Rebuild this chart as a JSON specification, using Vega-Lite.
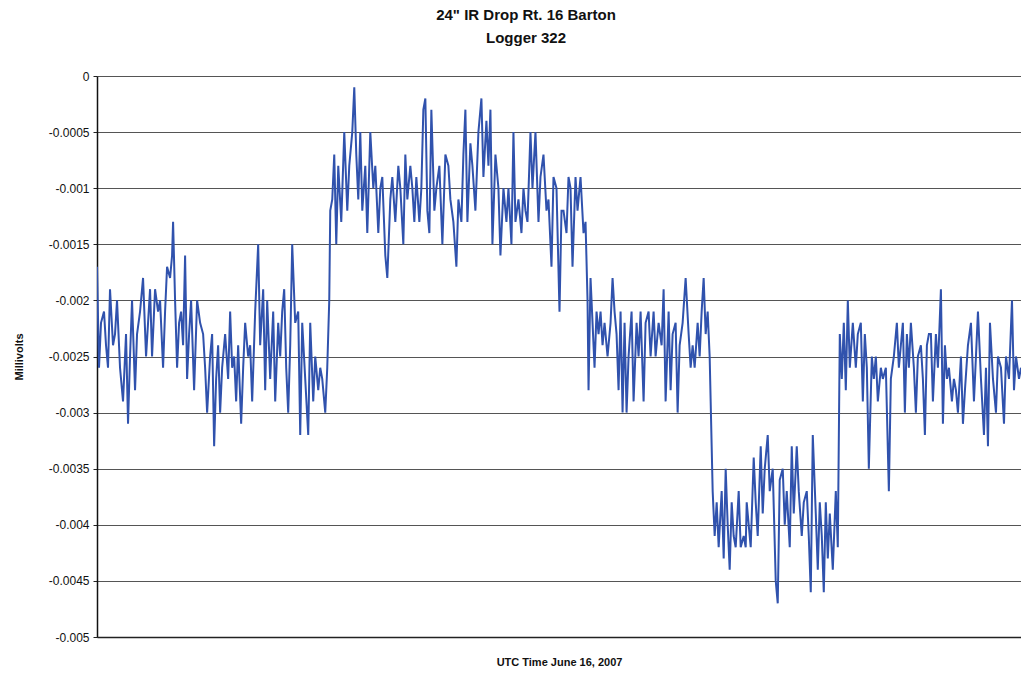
{
  "$schema": "https://vega.github.io/schema/vega-lite/v6.json",
  "autosize": {"type": "none"},
  "padding": {"left": 97, "top": 76, "right": 0, "bottom": 38},
  "width": 924,
  "height": 561,
  "background": "white",
  "title": {
    "text": ["24\" IR Drop Rt. 16 Barton", "Logger 322"],
    "font": "Liberation Sans",
    "fontSize": 15,
    "fontWeight": "bold",
    "color": "#111111",
    "anchor": "middle",
    "frame": "group",
    "dx": -33,
    "offset": 24,
    "lineHeight": 23
  },
  "config": {
    "view": {"stroke": null},
    "axis": {"labelFont": "Liberation Sans", "titleFont": "Liberation Sans"}
  },
  "data": {"values": [
    {"t":0,"v":-0.0017},{"t":2,"v":-0.0026},{"t":4,"v":-0.0022},{"t":7,"v":-0.0021},{"t":9,"v":-0.0024},{"t":11,"v":-0.0026},{"t":13,"v":-0.0019},{"t":16,"v":-0.0024},{"t":18,"v":-0.0023},{"t":20,"v":-0.0020},
    {"t":23,"v":-0.0026},{"t":26,"v":-0.0029},{"t":29,"v":-0.0023},{"t":31,"v":-0.0031},{"t":33,"v":-0.0025},{"t":35,"v":-0.0020},{"t":38,"v":-0.0028},{"t":40,"v":-0.0023},{"t":43,"v":-0.0021},{"t":46,"v":-0.0018},
    {"t":49,"v":-0.0025},{"t":51,"v":-0.0022},{"t":53,"v":-0.0019},{"t":55,"v":-0.0025},{"t":58,"v":-0.0019},{"t":61,"v":-0.0021},{"t":63,"v":-0.0020},{"t":66,"v":-0.0026},{"t":68,"v":-0.0021},{"t":70,"v":-0.0017},
    {"t":73,"v":-0.0018},{"t":75,"v":-0.0016},{"t":76,"v":-0.0013},{"t":78,"v":-0.0020},{"t":80,"v":-0.0026},{"t":82,"v":-0.0022},{"t":84,"v":-0.0021},{"t":86,"v":-0.0024},{"t":88,"v":-0.0016},{"t":90,"v":-0.0027},
    {"t":92,"v":-0.0023},{"t":94,"v":-0.0020},{"t":97,"v":-0.0028},{"t":100,"v":-0.0020},{"t":103,"v":-0.0022},{"t":106,"v":-0.0023},{"t":108,"v":-0.0026},{"t":110,"v":-0.0030},{"t":113,"v":-0.0025},{"t":115,"v":-0.0023},
    {"t":117,"v":-0.0033},{"t":119,"v":-0.0027},{"t":121,"v":-0.0024},{"t":123,"v":-0.0030},{"t":125,"v":-0.0026},{"t":128,"v":-0.0023},{"t":131,"v":-0.0027},{"t":133,"v":-0.0021},{"t":135,"v":-0.0026},{"t":137,"v":-0.0025},
    {"t":139,"v":-0.0029},{"t":141,"v":-0.0024},{"t":144,"v":-0.0031},{"t":146,"v":-0.0026},{"t":148,"v":-0.0022},{"t":151,"v":-0.0025},{"t":153,"v":-0.0024},{"t":155,"v":-0.0029},{"t":158,"v":-0.0021},{"t":161,"v":-0.0015},
    {"t":163,"v":-0.0024},{"t":166,"v":-0.0019},{"t":168,"v":-0.0028},{"t":170,"v":-0.0020},{"t":173,"v":-0.0027},{"t":176,"v":-0.0021},{"t":178,"v":-0.0029},{"t":181,"v":-0.0022},{"t":183,"v":-0.0025},{"t":185,"v":-0.0021},
    {"t":187,"v":-0.0019},{"t":189,"v":-0.0026},{"t":191,"v":-0.0030},{"t":193,"v":-0.0024},{"t":195,"v":-0.0015},{"t":198,"v":-0.0022},{"t":201,"v":-0.0021},{"t":203,"v":-0.0032},{"t":205,"v":-0.0022},{"t":208,"v":-0.0027},
    {"t":211,"v":-0.0032},{"t":213,"v":-0.0022},{"t":216,"v":-0.0029},{"t":218,"v":-0.0025},{"t":221,"v":-0.0028},{"t":223,"v":-0.0026},{"t":225,"v":-0.0027},{"t":228,"v":-0.0030},{"t":230,"v":-0.0026},{"t":232,"v":-0.0020},
    {"t":233,"v":-0.0012},{"t":235,"v":-0.0011},{"t":237,"v":-0.0007},{"t":239,"v":-0.0015},{"t":241,"v":-0.0008},{"t":244,"v":-0.0013},{"t":247,"v":-0.0005},{"t":250,"v":-0.0012},{"t":252,"v":-0.0008},{"t":255,"v":-0.0005},
    {"t":257,"v":-0.0001},{"t":259,"v":-0.0007},{"t":261,"v":-0.0011},{"t":263,"v":-0.0005},{"t":265,"v":-0.0012},{"t":268,"v":-0.0008},{"t":270,"v":-0.0014},{"t":273,"v":-0.0005},{"t":276,"v":-0.0010},{"t":278,"v":-0.0008},
    {"t":281,"v":-0.0014},{"t":283,"v":-0.0010},{"t":285,"v":-0.0009},{"t":288,"v":-0.0016},{"t":290,"v":-0.0018},{"t":293,"v":-0.0011},{"t":295,"v":-0.0009},{"t":298,"v":-0.0013},{"t":301,"v":-0.0008},{"t":303,"v":-0.0010},
    {"t":306,"v":-0.0015},{"t":308,"v":-0.0007},{"t":310,"v":-0.0011},{"t":313,"v":-0.0008},{"t":315,"v":-0.0010},{"t":317,"v":-0.0013},{"t":319,"v":-0.0009},{"t":322,"v":-0.0013},{"t":324,"v":-0.0010},{"t":326,"v":-0.0003},
    {"t":328,"v":-0.0002},{"t":330,"v":-0.0012},{"t":332,"v":-0.0014},{"t":334,"v":-0.0003},{"t":337,"v":-0.0012},{"t":339,"v":-0.0010},{"t":342,"v":-0.0008},{"t":345,"v":-0.0015},{"t":348,"v":-0.0007},{"t":351,"v":-0.0008},
    {"t":353,"v":-0.0011},{"t":356,"v":-0.0013},{"t":359,"v":-0.0017},{"t":361,"v":-0.0011},{"t":364,"v":-0.0013},{"t":366,"v":-0.0007},{"t":368,"v":-0.0003},{"t":370,"v":-0.0013},{"t":373,"v":-0.0006},{"t":375,"v":-0.0008},
    {"t":378,"v":-0.0012},{"t":381,"v":-0.0005},{"t":384,"v":-0.0002},{"t":386,"v":-0.0009},{"t":389,"v":-0.0004},{"t":391,"v":-0.0008},{"t":393,"v":-0.0003},{"t":395,"v":-0.0015},{"t":398,"v":-0.0007},{"t":401,"v":-0.0010},
    {"t":403,"v":-0.0016},{"t":406,"v":-0.0010},{"t":409,"v":-0.0013},{"t":411,"v":-0.0010},{"t":414,"v":-0.0015},{"t":416,"v":-0.0005},{"t":418,"v":-0.0013},{"t":421,"v":-0.0011},{"t":424,"v":-0.0014},{"t":426,"v":-0.0010},
    {"t":428,"v":-0.0012},{"t":430,"v":-0.0013},{"t":433,"v":-0.0005},{"t":435,"v":-0.0010},{"t":438,"v":-0.0005},{"t":441,"v":-0.0013},{"t":443,"v":-0.0009},{"t":446,"v":-0.0007},{"t":449,"v":-0.0012},{"t":451,"v":-0.0011},
    {"t":454,"v":-0.0017},{"t":456,"v":-0.0009},{"t":459,"v":-0.0010},{"t":462,"v":-0.0021},{"t":464,"v":-0.0012},{"t":466,"v":-0.0012},{"t":469,"v":-0.0014},{"t":471,"v":-0.0009},{"t":473,"v":-0.0010},{"t":475,"v":-0.0017},
    {"t":478,"v":-0.0009},{"t":480,"v":-0.0012},{"t":483,"v":-0.0009},{"t":486,"v":-0.0014},{"t":488,"v":-0.0013},{"t":490,"v":-0.0020},{"t":491,"v":-0.0028},{"t":493,"v":-0.0018},{"t":495,"v":-0.0022},{"t":497,"v":-0.0026},
    {"t":499,"v":-0.0021},{"t":501,"v":-0.0023},{"t":503,"v":-0.0021},{"t":505,"v":-0.0024},{"t":507,"v":-0.0022},{"t":510,"v":-0.0025},{"t":513,"v":-0.0022},{"t":515,"v":-0.0018},{"t":517,"v":-0.0021},{"t":519,"v":-0.0023},
    {"t":521,"v":-0.0028},{"t":523,"v":-0.0021},{"t":525,"v":-0.0030},{"t":527,"v":-0.0022},{"t":529,"v":-0.0030},{"t":531,"v":-0.0025},{"t":534,"v":-0.0021},{"t":536,"v":-0.0029},{"t":539,"v":-0.0022},{"t":541,"v":-0.0025},
    {"t":543,"v":-0.0021},{"t":546,"v":-0.0029},{"t":548,"v":-0.0022},{"t":551,"v":-0.0021},{"t":553,"v":-0.0025},{"t":556,"v":-0.0021},{"t":558,"v":-0.0025},{"t":561,"v":-0.0022},{"t":564,"v":-0.0024},{"t":566,"v":-0.0019},
    {"t":568,"v":-0.0029},{"t":571,"v":-0.0021},{"t":573,"v":-0.0028},{"t":575,"v":-0.0023},{"t":578,"v":-0.0022},{"t":580,"v":-0.0030},{"t":582,"v":-0.0024},{"t":585,"v":-0.0022},{"t":588,"v":-0.0018},{"t":591,"v":-0.0023},
    {"t":593,"v":-0.0026},{"t":595,"v":-0.0024},{"t":597,"v":-0.0026},{"t":600,"v":-0.0022},{"t":602,"v":-0.0025},{"t":604,"v":-0.0021},{"t":606,"v":-0.0018},{"t":608,"v":-0.0023},{"t":610,"v":-0.0021},{"t":612,"v":-0.0025},
    {"t":614,"v":-0.0033},{"t":615,"v":-0.0037},{"t":617,"v":-0.0041},{"t":619,"v":-0.0038},{"t":621,"v":-0.0042},{"t":624,"v":-0.0037},{"t":626,"v":-0.0043},{"t":628,"v":-0.0035},{"t":630,"v":-0.0040},{"t":632,"v":-0.0044},
    {"t":634,"v":-0.0038},{"t":636,"v":-0.0041},{"t":638,"v":-0.0042},{"t":641,"v":-0.0037},{"t":643,"v":-0.0042},{"t":646,"v":-0.0041},{"t":648,"v":-0.0042},{"t":649,"v":-0.0038},{"t":651,"v":-0.0040},{"t":653,"v":-0.0042},
    {"t":656,"v":-0.0034},{"t":658,"v":-0.0038},{"t":660,"v":-0.0041},{"t":663,"v":-0.0033},{"t":665,"v":-0.0039},{"t":667,"v":-0.0035},{"t":670,"v":-0.0032},{"t":672,"v":-0.0037},{"t":675,"v":-0.0035},{"t":678,"v":-0.0045},
    {"t":680,"v":-0.0047},{"t":682,"v":-0.0036},{"t":685,"v":-0.0035},{"t":687,"v":-0.0040},{"t":689,"v":-0.0037},{"t":692,"v":-0.0042},{"t":694,"v":-0.0033},{"t":696,"v":-0.0039},{"t":699,"v":-0.0033},{"t":701,"v":-0.0037},
    {"t":704,"v":-0.0041},{"t":706,"v":-0.0038},{"t":709,"v":-0.0037},{"t":711,"v":-0.0041},{"t":713,"v":-0.0046},{"t":715,"v":-0.0032},{"t":718,"v":-0.0039},{"t":720,"v":-0.0044},{"t":722,"v":-0.0038},{"t":724,"v":-0.0041},
    {"t":726,"v":-0.0046},{"t":728,"v":-0.0038},{"t":730,"v":-0.0043},{"t":732,"v":-0.0039},{"t":735,"v":-0.0044},{"t":738,"v":-0.0037},{"t":740,"v":-0.0042},{"t":742,"v":-0.0023},{"t":744,"v":-0.0027},{"t":746,"v":-0.0022},
    {"t":748,"v":-0.0028},{"t":750,"v":-0.0020},{"t":752,"v":-0.0026},{"t":755,"v":-0.0022},{"t":758,"v":-0.0026},{"t":760,"v":-0.0023},{"t":763,"v":-0.0022},{"t":765,"v":-0.0029},{"t":767,"v":-0.0023},{"t":769,"v":-0.0026},
    {"t":771,"v":-0.0035},{"t":774,"v":-0.0025},{"t":776,"v":-0.0027},{"t":778,"v":-0.0025},{"t":780,"v":-0.0029},{"t":783,"v":-0.0026},{"t":785,"v":-0.0027},{"t":788,"v":-0.0026},{"t":791,"v":-0.0037},{"t":793,"v":-0.0027},
    {"t":796,"v":-0.0025},{"t":799,"v":-0.0022},{"t":801,"v":-0.0026},{"t":803,"v":-0.0024},{"t":805,"v":-0.0022},{"t":807,"v":-0.0030},{"t":809,"v":-0.0023},{"t":811,"v":-0.0026},{"t":813,"v":-0.0022},{"t":816,"v":-0.0026},
    {"t":818,"v":-0.0030},{"t":820,"v":-0.0025},{"t":823,"v":-0.0024},{"t":825,"v":-0.0027},{"t":827,"v":-0.0032},{"t":829,"v":-0.0024},{"t":831,"v":-0.0023},{"t":833,"v":-0.0023},{"t":835,"v":-0.0029},{"t":838,"v":-0.0023},
    {"t":840,"v":-0.0026},{"t":843,"v":-0.0019},{"t":845,"v":-0.0031},{"t":847,"v":-0.0024},{"t":849,"v":-0.0027},{"t":851,"v":-0.0026},{"t":854,"v":-0.0029},{"t":856,"v":-0.0027},{"t":858,"v":-0.0028},{"t":860,"v":-0.0030},
    {"t":863,"v":-0.0025},{"t":865,"v":-0.0031},{"t":867,"v":-0.0028},{"t":870,"v":-0.0024},{"t":873,"v":-0.0022},{"t":876,"v":-0.0029},{"t":878,"v":-0.0025},{"t":880,"v":-0.0021},{"t":883,"v":-0.0027},{"t":886,"v":-0.0032},
    {"t":888,"v":-0.0026},{"t":890,"v":-0.0033},{"t":892,"v":-0.0022},{"t":895,"v":-0.0027},{"t":898,"v":-0.0030},{"t":900,"v":-0.0025},{"t":903,"v":-0.0026},{"t":906,"v":-0.0031},{"t":908,"v":-0.0025},{"t":911,"v":-0.0027},
    {"t":914,"v":-0.0020},{"t":916,"v":-0.0028},{"t":918,"v":-0.0025},{"t":921,"v":-0.0027},{"t":923,"v":-0.0026}
  ]},
  "layer": [
    {
      "mark": {"type": "line", "color": "#3052ad", "strokeWidth": 2, "clip": true},
      "encoding": {
        "x": {
          "field": "t", "type": "quantitative",
          "scale": {"domain": [0, 923], "nice": false, "zero": false},
          "axis": {
            "title": "UTC Time June 16, 2007",
            "titleFontSize": 11, "titleFontWeight": "bold", "titleColor": "#111111",
            "titlePadding": 19,
            "labels": false, "ticks": false, "grid": false,
            "domainColor": "#222222", "domainWidth": 1.5
          }
        },
        "y": {
          "field": "v", "type": "quantitative",
          "scale": {"domain": [-0.005, 0], "nice": false},
          "axis": {
            "title": "Millivolts",
            "titleFontSize": 11, "titleFontWeight": "bold", "titleColor": "#111111",
            "titlePadding": 24,
            "values": [0, -0.0005, -0.001, -0.0015, -0.002, -0.0025, -0.003, -0.0035, -0.004, -0.0045, -0.005],
            "labelExpr": "'' + datum.value",
            "labelFontSize": 12, "labelColor": "#111111", "labelPadding": 4,
            "tickSize": 4, "tickColor": "#222222",
            "grid": true, "gridColor": "#555555", "gridWidth": 1,
            "domainColor": "#111111", "domainWidth": 1.5
          }
        }
      }
    }
  ]
}
